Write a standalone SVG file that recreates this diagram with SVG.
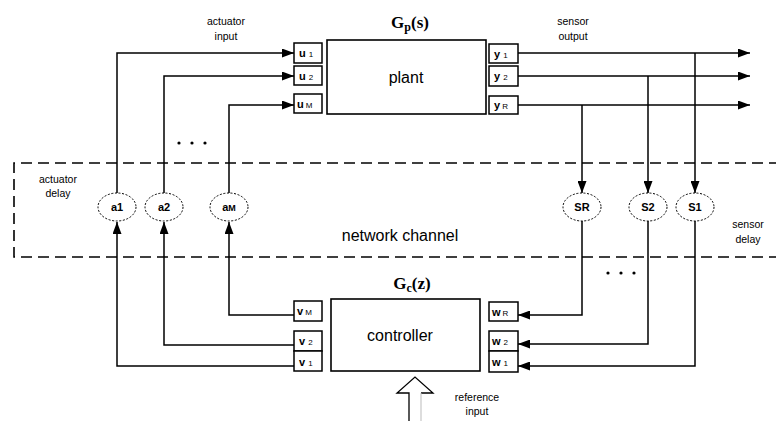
<svg xmlns="http://www.w3.org/2000/svg" width="776" height="421" viewBox="0 0 776 421">
  <style>
    .box { fill: #fff; stroke: #000; stroke-width: 1.6; }
    .port { fill: #fff; stroke: #000; stroke-width: 1.5; }
    .delay { fill: #fff; stroke: #000; stroke-width: 1; stroke-dasharray: 2 1.6; }
    .wire { fill: none; stroke: #000; stroke-width: 1.5; }
    .chan { fill: none; stroke: #000; stroke-width: 1.6; stroke-dasharray: 11 6; }
    .lbl { font-family: "Liberation Sans", Arial, sans-serif; font-size: 10.5px; fill: #000; }
    .plbl { font-family: "Liberation Sans", Arial, sans-serif; font-size: 11px; font-weight: bold; fill: #000; }
    .sub { font-size: 8px; font-weight: normal; }
    .dl { font-family: "Liberation Sans", Arial, sans-serif; font-size: 11px; font-weight: bold; fill: #000; }
    .big { font-family: "Liberation Sans", Arial, sans-serif; font-size: 16px; fill: #000; }
    .tf { font-family: "Liberation Serif", "Times New Roman", serif; font-size: 17px; font-weight: bold; fill: #000; }
    .dot { fill: #000; }
  </style>
  <defs>
    <marker id="ah" viewBox="0 0 12 9" refX="12" refY="4.5" markerWidth="12" markerHeight="9" markerUnits="userSpaceOnUse" orient="auto">
      <path d="M0,0 L12,4.5 L0,9 Z" fill="#000"/>
    </marker>
  </defs>

  <!-- network channel region -->
  <path class="chan" d="M780,163 H14 V257 H780"/>
  <text class="big" x="400" y="241" text-anchor="middle">network channel</text>
  <text class="lbl" x="58" y="183" text-anchor="middle">actuator</text>
  <text class="lbl" x="58" y="197" text-anchor="middle">delay</text>
  <text class="lbl" x="748" y="228" text-anchor="middle">sensor</text>
  <text class="lbl" x="748" y="243" text-anchor="middle">delay</text>

  <!-- connectors -->
  <g id="connectors">
    <!-- plant outputs to the right -->
    <path class="wire" d="M518,53 H750" marker-end="url(#ah)"/>
    <path class="wire" d="M518,76 H750" marker-end="url(#ah)"/>
    <path class="wire" d="M518,105 H750" marker-end="url(#ah)"/>
    <!-- outputs down to sensor delays -->
    <path class="wire" d="M582,105 V193" marker-end="url(#ah)"/>
    <path class="wire" d="M648,76 V193" marker-end="url(#ah)"/>
    <path class="wire" d="M695,53 V193" marker-end="url(#ah)"/>
    <!-- sensor delays to controller inputs -->
    <path class="wire" d="M582,221 V315 H518" marker-end="url(#ah)"/>
    <path class="wire" d="M648,221 V344 H518" marker-end="url(#ah)" stroke-width="2"/>
    <path class="wire" d="M695,221 V366 H518" marker-end="url(#ah)"/>
    <!-- controller outputs to actuator delays -->
    <path class="wire" d="M294,366 H117 V222" marker-end="url(#ah)"/>
    <path class="wire" d="M294,345 H164 V222" marker-end="url(#ah)" stroke-width="2"/>
    <path class="wire" d="M294,315 H229 V222" marker-end="url(#ah)"/>
    <!-- actuator delays to plant inputs -->
    <path class="wire" d="M117,193 V53 H294" marker-end="url(#ah)"/>
    <path class="wire" d="M164,193 V76 H294" marker-end="url(#ah)"/>
    <path class="wire" d="M229,193 V105 H294" marker-end="url(#ah)"/>
    <!-- reference input -->
    <path fill="#fff" stroke="#000" stroke-width="1.3" d="M409,421 V393 H397 L415,377 L433,393 H421"/>
    <path fill="none" stroke="#bbb" stroke-width="1" d="M421,393 V421"/>
  </g>

  <text class="lbl" x="226" y="25" text-anchor="middle">actuator</text>
  <text class="lbl" x="226" y="40" text-anchor="middle">input</text>
  <text class="lbl" x="573" y="25" text-anchor="middle">sensor</text>
  <text class="lbl" x="573" y="40" text-anchor="middle">output</text>
  <text class="lbl" x="477" y="401" text-anchor="middle">reference</text>
  <text class="lbl" x="477" y="415" text-anchor="middle">input</text>

  <!-- ellipsis marks -->
  <circle class="dot" cx="179" cy="143" r="1.6"/>
  <circle class="dot" cx="192" cy="143" r="1.6"/>
  <circle class="dot" cx="205" cy="143" r="1.6"/>
  <circle class="dot" cx="608" cy="273" r="1.6"/>
  <circle class="dot" cx="621" cy="273" r="1.6"/>
  <circle class="dot" cx="634" cy="273" r="1.6"/>

  <!-- plant -->
  <g id="plant">
    <text class="tf" x="410" y="28" text-anchor="middle">G<tspan font-size="12" dy="3">p</tspan><tspan dy="-3">(s)</tspan></text>
    <rect class="box" x="327" y="40" width="159" height="74"/>
    <text class="big" x="406" y="83" text-anchor="middle">plant</text>
  </g>
  <g id="port-u1"><rect class="port" x="294" y="43" width="28" height="20"/><text class="plbl" x="299" y="57">u<tspan class="sub" dx="3">1</tspan></text></g>
  <g id="port-u2"><rect class="port" x="294" y="66" width="28" height="19"/><text class="plbl" x="299" y="80">u<tspan class="sub" dx="3">2</tspan></text></g>
  <g id="port-uM"><rect class="port" x="294" y="94" width="28" height="19"/><text class="plbl" x="297" y="108">u<tspan class="sub" dx="2">M</tspan></text></g>
  <g id="port-y1"><rect class="port" x="489" y="44" width="29" height="19"/><text class="plbl" x="494" y="58">y<tspan class="sub" dx="3">1</tspan></text></g>
  <g id="port-y2"><rect class="port" x="489" y="66" width="29" height="20"/><text class="plbl" x="494" y="80">y<tspan class="sub" dx="3">2</tspan></text></g>
  <g id="port-yR"><rect class="port" x="489" y="96" width="29" height="18"/><text class="plbl" x="494" y="109">y<tspan class="sub" dx="2">R</tspan></text></g>

  <!-- controller -->
  <g id="controller">
    <text class="tf" x="412" y="289" text-anchor="middle">G<tspan font-size="12" dy="3">c</tspan><tspan dy="-3">(z)</tspan></text>
    <rect class="box" x="331" y="299" width="149" height="72"/>
    <text class="big" x="400" y="341" text-anchor="middle">controller</text>
  </g>
  <g id="port-vM"><rect class="port" x="294" y="301" width="28" height="20"/><text class="plbl" x="297" y="315">v<tspan class="sub" dx="2">M</tspan></text></g>
  <g id="port-v2"><rect class="port" x="294" y="331" width="28" height="20"/><text class="plbl" x="299" y="345">v<tspan class="sub" dx="3">2</tspan></text></g>
  <g id="port-v1"><rect class="port" x="294" y="351" width="28" height="20"/><text class="plbl" x="299" y="366">v<tspan class="sub" dx="3">1</tspan></text></g>
  <g id="port-wR"><rect class="port" x="489" y="302" width="29" height="19"/><text class="plbl" x="492" y="316">w<tspan class="sub" dx="2">R</tspan></text></g>
  <g id="port-w2"><rect class="port" x="489" y="331" width="29" height="20"/><text class="plbl" x="492" y="345">w<tspan class="sub" dx="3">2</tspan></text></g>
  <g id="port-w1"><rect class="port" x="489" y="351" width="29" height="21"/><text class="plbl" x="492" y="366">w<tspan class="sub" dx="3">1</tspan></text></g>

  <!-- actuator delays -->
  <g id="delay-a1"><ellipse class="delay" cx="117" cy="207" rx="19" ry="14"/><text class="dl" x="117" y="211" text-anchor="middle">a1</text></g>
  <g id="delay-a2"><ellipse class="delay" cx="164" cy="207" rx="19" ry="14"/><text class="dl" x="164" y="211" text-anchor="middle">a2</text></g>
  <g id="delay-aM"><ellipse class="delay" cx="229" cy="207" rx="19" ry="14"/><text class="dl" x="229" y="211" text-anchor="middle">a<tspan font-size="9">M</tspan></text></g>

  <!-- sensor delays -->
  <g id="delay-sR"><ellipse class="delay" cx="582" cy="207" rx="19" ry="14"/><text class="dl" x="582" y="211" text-anchor="middle">SR</text></g>
  <g id="delay-s2"><ellipse class="delay" cx="648" cy="207" rx="19" ry="14"/><text class="dl" x="648" y="211" text-anchor="middle">S2</text></g>
  <g id="delay-s1"><ellipse class="delay" cx="695" cy="207" rx="19" ry="14"/><text class="dl" x="695" y="211" text-anchor="middle">S1</text></g>
</svg>
